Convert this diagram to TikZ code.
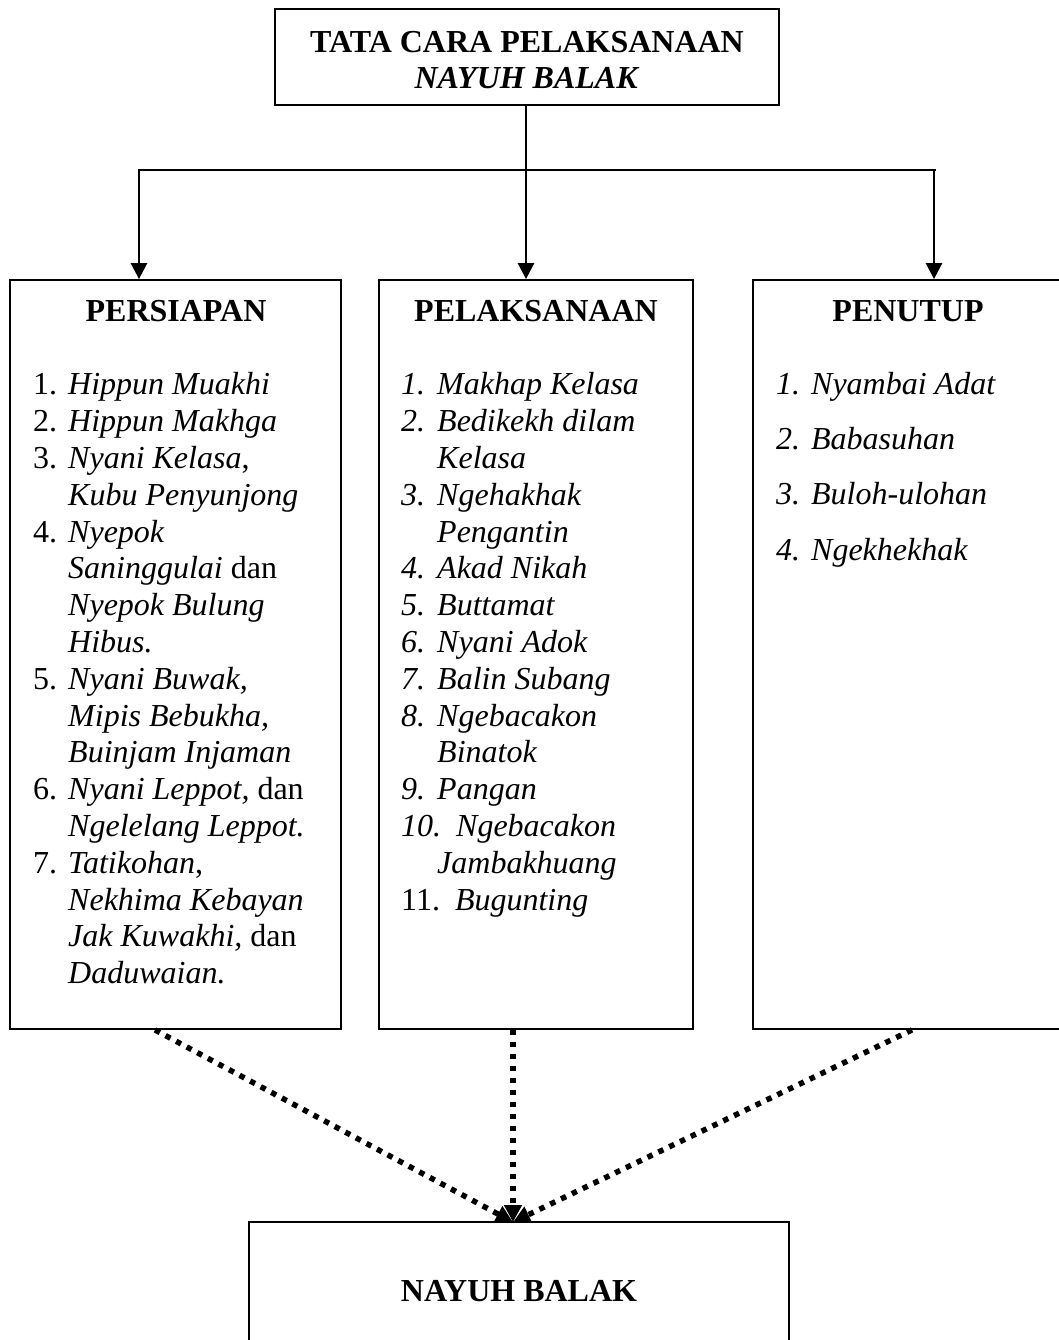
\documentclass[tikz,border=0pt]{standalone}
\usepackage{fontspec}
\setmainfont{Liberation Serif}
\usetikzlibrary{arrows.meta}
\begin{document}
\begin{tikzpicture}[x=1pt,y=-1pt,
  every node/.style={font=\fontsize{32}{36.8}\selectfont},
  box/.style={draw, line width=1.8pt, inner sep=0pt},
  head/.style={inner sep=0pt, font=\fontsize{32}{36.8}\selectfont\bfseries},
  list/.style={inner sep=0pt, anchor=north west},
  conn/.style={line width=2.6pt},
  arr/.style={conn, -{Triangle[width=16pt,length=16pt]}},
  dotarrow/.style={line width=5.5pt, dash pattern=on 5.5pt off 6.5pt, -{Triangle[width=17pt,length=17pt]}}]
\path[use as bounding box] (0,0) rectangle (1059,1340);
\clip (0,0) rectangle (1059,1340);

% boxes
\node[box, minimum width=504pt, minimum height=96pt] (top) at (527,57) {};
\node[align=center, inner sep=0pt, font=\fontsize{32}{36.8}\selectfont\bfseries]
  (toptext) at (527,60) {TATA CARA PELAKSANAAN\\\textit{NAYUH BALAK}};
\node[box, minimum width=331pt, minimum height=749pt] (pers) at (175.5,654.5) {};
\node[box, minimum width=314pt, minimum height=749pt] (pel) at (536,654.5) {};
\node[box, minimum width=332pt, minimum height=749pt] (pen) at (919,654.5) {};
\node[box, minimum width=540pt, minimum height=138pt, font=\fontsize{32}{36.8}\selectfont\bfseries]
  (hasil) at (519,1291) {NAYUH BALAK};

% headings
\node[head] (hpers) at (176,311) {PERSIAPAN};
\node[head] (hpel) at (536,311) {PELAKSANAAN};
\node[head] (hpen) at (908,311) {PENUTUP};

% lists
\node[list] (lpers) at (33,369) {\begin{tabular}{@{}p{35pt}@{}l@{}}
1. & \textit{Hippun Muakhi}\\
2. & \textit{Hippun Makhga}\\
3. & \textit{Nyani Kelasa},\\
   & \textit{Kubu Penyunjong}\\
4. & \textit{Nyepok}\\
   & \textit{Saninggulai} dan\\
   & \textit{Nyepok Bulung}\\
   & \textit{Hibus.}\\
5. & \textit{Nyani Buwak,}\\
   & \textit{Mipis Bebukha,}\\
   & \textit{Buinjam Injaman}\\
6. & \textit{Nyani Leppot,} dan\\
   & \textit{Ngelelang Leppot.}\\
7. & \textit{Tatikohan},\\
   & \textit{Nekhima Kebayan}\\
   & \textit{Jak Kuwakhi,} dan\\
   & \textit{Daduwaian.}
\end{tabular}};

\node[list] (lpel) at (401,369) {\begin{tabular}{@{}p{36pt}@{}l@{}}
\textit{1.} & \textit{Makhap Kelasa}\\
\textit{2.} & \textit{Bedikekh dilam}\\
   & \textit{Kelasa}\\
\textit{3.} & \textit{Ngehakhak}\\
   & \textit{Pengantin}\\
\textit{4.} & \textit{Akad Nikah}\\
\textit{5.} & \textit{Buttamat}\\
\textit{6.} & \textit{Nyani Adok}\\
\textit{7.} & \textit{Balin Subang}\\
\textit{8.} & \textit{Ngebacakon}\\
   & \textit{Binatok}\\
\textit{9.} & \textit{Pangan}\\
\multicolumn{2}{@{}l@{}}{\textit{10.}\hspace{15pt}\textit{Ngebacakon}}\\
   & \textit{Jambakhuang}\\
\multicolumn{2}{@{}l@{}}{11.\hspace{15pt}\textit{Bugunting}}
\end{tabular}};

\node[list] (lpen) at (776,369) {\begin{tabular}{@{}p{35pt}@{}l@{}}
\textit{1.} & \textit{Nyambai Adat}\\[18pt]
\textit{2.} & \textit{Babasuhan}\\[18pt]
\textit{3.} & \textit{Buloh-ulohan}\\[19pt]
\textit{4.} & \textit{Ngekhekhak}
\end{tabular}};

% top connectors
\coordinate (junc) at (526,170);
\draw[conn] (top.south -| junc) -- (junc);
\draw[arr] (junc) -| ([xshift=-36.5pt]pers.north);
\draw[arr] (junc) -- ([xshift=-10pt]pel.north);
\draw[arr] (junc) -| ([xshift=15pt]pen.north);
\draw[conn] (junc) -- ++(410,0);

% dotted connectors
\draw[dotarrow] ([xshift=-20.5pt]pers.south) -- ([xshift=-6pt,yshift=-1pt]hasil.north);
\draw[dotarrow] ([xshift=-23pt]pel.south) -- ([xshift=-6pt,yshift=-1pt]hasil.north);
\draw[dotarrow] ([xshift=-7pt]pen.south) -- ([xshift=-6pt,yshift=-1pt]hasil.north);
\end{tikzpicture}
\end{document}
